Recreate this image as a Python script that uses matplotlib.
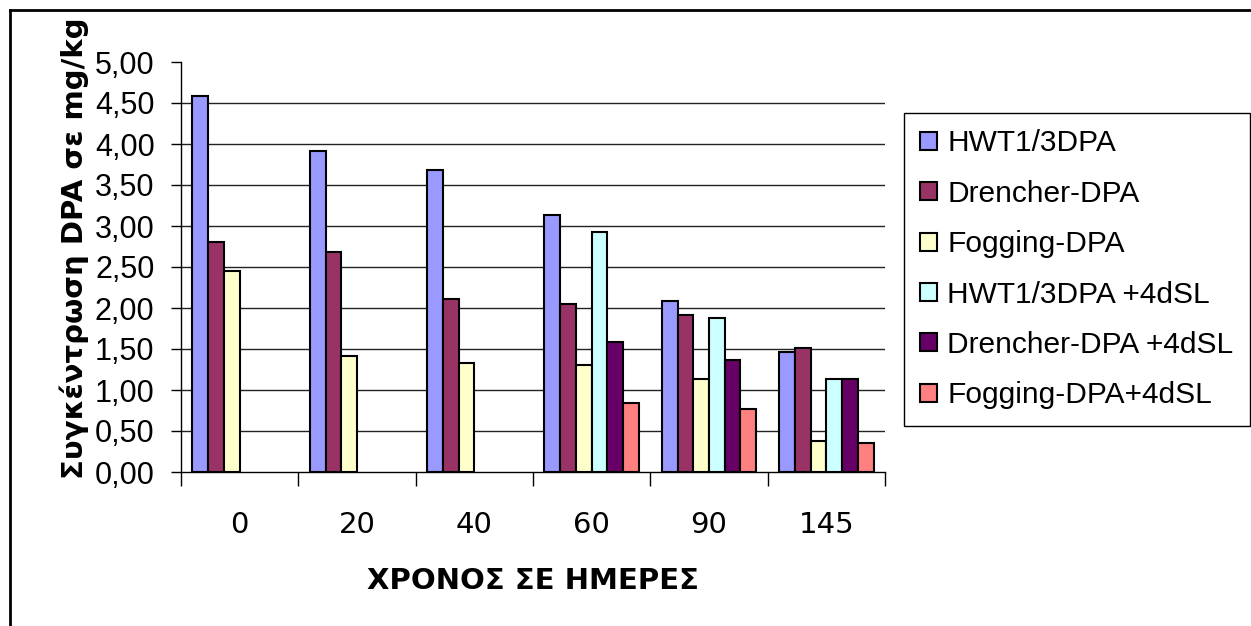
import matplotlib
matplotlib.use("Agg")
from matplotlib import pyplot as plt
from matplotlib.lines import Line2D
import numpy as np

days = ["0", "20", "40", "60", "90", "145"]
series_names = ["HWT1/3DPA", "Drencher-DPA", "Fogging-DPA",
                "HWT1/3DPA +4dSL", "Drencher-DPA +4dSL", "Fogging-DPA+4dSL"]
hwt = [4.58, 3.92, 3.68, 3.14, 2.08, 1.46]
drencher = [2.80, 2.68, 2.11, 2.05, 1.91, 1.51]
fogging = [2.45, 1.42, 1.33, 1.31, 1.13, 0.38]
hwt_sl = [np.nan, np.nan, np.nan, 2.93, 1.88, 1.13]
drencher_sl = [np.nan, np.nan, np.nan, 1.59, 1.36, 1.13]
fogging_sl = [np.nan, np.nan, np.nan, 0.84, 0.77, 0.35]
colors = ["#9999FF", "#993366", "#FFFFCC", "#CCFFFF", "#660066", "#FF8080"]

values = [hwt, drencher, fogging, hwt_sl, drencher_sl, fogging_sl]

plt.rcParams["font.family"] = ["Liberation Sans", "DejaVu Sans"]
label_font = ["DejaVu Sans"]

fig = plt.figure(figsize=(12.51, 6.26), dpi=100)
ax = fig.add_axes([181 / 1251, 1 - 472 / 626, (885 - 181) / 1251, (472 - 62) / 626])

x = np.arange(len(days))
width = 0.134
for i, (name, vals) in enumerate(zip(series_names, values)):
    ax.bar(x + (i - 2.5) * width, vals, width, color=colors[i],
           edgecolor="black", linewidth=1.5, label=name, zorder=3)

ax.set_xlim(-0.5, len(days) - 0.5)
ax.set_ylim(0, 5)
yt = np.arange(0, 5.01, 0.5)
ax.set_yticks(yt)
ax.set_yticklabels([f"{v:.2f}".replace(".", ",") for v in yt], fontsize=22)
for v in np.arange(0.5, 4.6, 0.5):
    ax.axhline(v, color="#222222", linewidth=1, zorder=1)

ax.set_xticks(np.arange(-0.5, len(days), 1))
ax.set_xticklabels([])
ax.set_xticks(x, minor=True)
ax.set_xticklabels(days, minor=True, fontsize=21, family=label_font)
ax.tick_params(axis="x", which="major", length=10, width=1, direction="out")
ax.tick_params(axis="x", which="minor", length=0, pad=28)
ax.tick_params(axis="y", length=7, width=1, direction="out", pad=12)

for s in ["top", "right"]:
    ax.spines[s].set_visible(False)
for s in ["left", "bottom"]:
    ax.spines[s].set_linewidth(1)

ax.set_xlabel("ΧΡΟΝΟΣ ΣΕ ΗΜΕΡΕΣ", fontsize=21, fontweight="bold",
              family=label_font, labelpad=20)
ax.set_ylabel("Συγκέντρωση DPA σε mg/kg", fontsize=21, fontweight="bold",
              family=label_font)
ax.yaxis.set_label_coords(-0.13, 0.546)

leg = fig.legend(loc="upper left", bbox_to_anchor=(904 / 1251, 1 - 113 / 626),
                 fontsize=21.5, frameon=True, fancybox=False, framealpha=1,
                 edgecolor="black", handlelength=0.55, handleheight=0.55,
                 handletextpad=0.35, labelspacing=0.75, borderpad=0.55,
                 borderaxespad=0)
leg.get_frame().set_linewidth(1)

# outer chart frame
fig.add_artist(Line2D([10 / 1251, 10 / 1251], [0, 1 - 10 / 626],
                      transform=fig.transFigure, color="black", linewidth=2))
fig.add_artist(Line2D([10 / 1251, 1], [1 - 10 / 626, 1 - 10 / 626],
                      transform=fig.transFigure, color="black", linewidth=2))

fig.savefig("out.png", dpi=100)
